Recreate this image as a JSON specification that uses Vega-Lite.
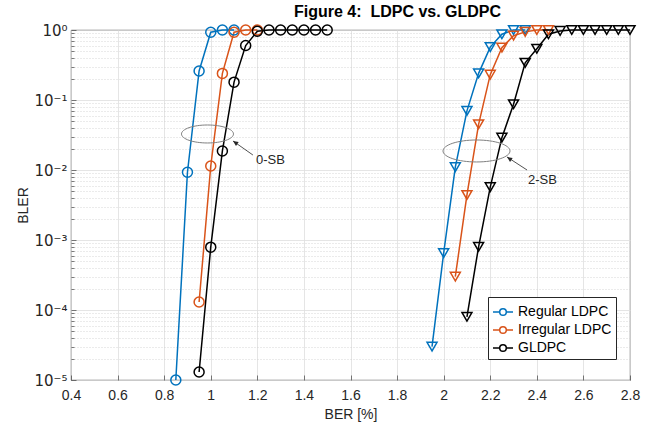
{
  "$schema": "https://vega.github.io/schema/vega-lite/v6.json",
  "autosize": {"type": "none"},
  "padding": {"left": 71, "top": 30, "right": 27, "bottom": 51},
  "width": 559,
  "height": 350,
  "background": "white",
  "title": {
    "text": "Figure 4:\u00a0 LDPC vs. GLDPC",
    "font": "Liberation Sans",
    "fontSize": 16,
    "fontWeight": "bold",
    "color": "#000000",
    "anchor": "middle",
    "dx": 47,
    "offset": -14,
    "baseline": "bottom"
  },
  "config": {
    "view": {"stroke": "#262626", "strokeWidth": 0.8},
    "font": "Liberation Sans"
  },
  "datasets": {
    "curves": [
      {"series": "Regular LDPC", "branch": "0-SB", "ber": 0.85, "bler": 0.00001},
      {"series": "Regular LDPC", "branch": "0-SB", "ber": 0.9, "bler": 0.0093},
      {"series": "Regular LDPC", "branch": "0-SB", "ber": 0.95, "bler": 0.26},
      {"series": "Regular LDPC", "branch": "0-SB", "ber": 1.0, "bler": 0.93},
      {"series": "Regular LDPC", "branch": "0-SB", "ber": 1.05, "bler": 1},
      {"series": "Regular LDPC", "branch": "0-SB", "ber": 1.1, "bler": 1},
      {"series": "Irregular LDPC", "branch": "0-SB", "ber": 0.95, "bler": 0.00013},
      {"series": "Irregular LDPC", "branch": "0-SB", "ber": 1.0, "bler": 0.0114},
      {"series": "Irregular LDPC", "branch": "0-SB", "ber": 1.05, "bler": 0.24},
      {"series": "Irregular LDPC", "branch": "0-SB", "ber": 1.1, "bler": 0.93},
      {"series": "Irregular LDPC", "branch": "0-SB", "ber": 1.15, "bler": 1},
      {"series": "Irregular LDPC", "branch": "0-SB", "ber": 1.2, "bler": 1},
      {"series": "GLDPC", "branch": "0-SB", "ber": 0.95, "bler": 0.000013},
      {"series": "GLDPC", "branch": "0-SB", "ber": 1.0, "bler": 0.00079},
      {"series": "GLDPC", "branch": "0-SB", "ber": 1.05, "bler": 0.0187},
      {"series": "GLDPC", "branch": "0-SB", "ber": 1.1, "bler": 0.18},
      {"series": "GLDPC", "branch": "0-SB", "ber": 1.15, "bler": 0.6},
      {"series": "GLDPC", "branch": "0-SB", "ber": 1.2, "bler": 0.96},
      {"series": "GLDPC", "branch": "0-SB", "ber": 1.25, "bler": 1},
      {"series": "GLDPC", "branch": "0-SB", "ber": 1.3, "bler": 1},
      {"series": "GLDPC", "branch": "0-SB", "ber": 1.35, "bler": 1},
      {"series": "GLDPC", "branch": "0-SB", "ber": 1.4, "bler": 1},
      {"series": "GLDPC", "branch": "0-SB", "ber": 1.45, "bler": 1},
      {"series": "GLDPC", "branch": "0-SB", "ber": 1.5, "bler": 1},
      {"series": "Regular LDPC", "branch": "2-SB", "ber": 1.95, "bler": 0.00003},
      {"series": "Regular LDPC", "branch": "2-SB", "ber": 2.0, "bler": 0.00065},
      {"series": "Regular LDPC", "branch": "2-SB", "ber": 2.05, "bler": 0.011},
      {"series": "Regular LDPC", "branch": "2-SB", "ber": 2.1, "bler": 0.07},
      {"series": "Regular LDPC", "branch": "2-SB", "ber": 2.15, "bler": 0.24},
      {"series": "Regular LDPC", "branch": "2-SB", "ber": 2.2, "bler": 0.57},
      {"series": "Regular LDPC", "branch": "2-SB", "ber": 2.25, "bler": 0.87},
      {"series": "Regular LDPC", "branch": "2-SB", "ber": 2.3, "bler": 1},
      {"series": "Regular LDPC", "branch": "2-SB", "ber": 2.35, "bler": 1},
      {"series": "Irregular LDPC", "branch": "2-SB", "ber": 2.05, "bler": 0.0003},
      {"series": "Irregular LDPC", "branch": "2-SB", "ber": 2.1, "bler": 0.0044},
      {"series": "Irregular LDPC", "branch": "2-SB", "ber": 2.15, "bler": 0.045},
      {"series": "Irregular LDPC", "branch": "2-SB", "ber": 2.2, "bler": 0.23},
      {"series": "Irregular LDPC", "branch": "2-SB", "ber": 2.25, "bler": 0.56},
      {"series": "Irregular LDPC", "branch": "2-SB", "ber": 2.3, "bler": 0.83},
      {"series": "Irregular LDPC", "branch": "2-SB", "ber": 2.35, "bler": 0.94},
      {"series": "Irregular LDPC", "branch": "2-SB", "ber": 2.4, "bler": 1},
      {"series": "Irregular LDPC", "branch": "2-SB", "ber": 2.45, "bler": 1},
      {"series": "GLDPC", "branch": "2-SB", "ber": 2.1, "bler": 0.00008},
      {"series": "GLDPC", "branch": "2-SB", "ber": 2.15, "bler": 0.0008},
      {"series": "GLDPC", "branch": "2-SB", "ber": 2.2, "bler": 0.0057},
      {"series": "GLDPC", "branch": "2-SB", "ber": 2.25, "bler": 0.029},
      {"series": "GLDPC", "branch": "2-SB", "ber": 2.3, "bler": 0.087},
      {"series": "GLDPC", "branch": "2-SB", "ber": 2.35, "bler": 0.34},
      {"series": "GLDPC", "branch": "2-SB", "ber": 2.4, "bler": 0.54},
      {"series": "GLDPC", "branch": "2-SB", "ber": 2.45, "bler": 0.87},
      {"series": "GLDPC", "branch": "2-SB", "ber": 2.5, "bler": 0.97},
      {"series": "GLDPC", "branch": "2-SB", "ber": 2.55, "bler": 1},
      {"series": "GLDPC", "branch": "2-SB", "ber": 2.6, "bler": 1},
      {"series": "GLDPC", "branch": "2-SB", "ber": 2.65, "bler": 1},
      {"series": "GLDPC", "branch": "2-SB", "ber": 2.7, "bler": 1},
      {"series": "GLDPC", "branch": "2-SB", "ber": 2.75, "bler": 1},
      {"series": "GLDPC", "branch": "2-SB", "ber": 2.8, "bler": 1}
    ],
    "ellipses": [
      {"group": "0-SB", "ber": 0.986, "bler": 0.0327},
      {"group": "2-SB", "ber": 2.141, "bler": 0.0187}
    ],
    "arrows": [
      {"group": "0-SB", "ber": 1.181, "bler": 0.01637, "ber2": 1.0955, "bler2": 0.02596},
      {"group": "2-SB", "ber": 2.358, "bler": 0.0100, "ber2": 2.272, "bler2": 0.01534}
    ],
    "labels": [
      {"text": "0-SB", "ber": 1.194, "bler": 0.0139},
      {"text": "2-SB", "ber": 2.362, "bler": 0.0072}
    ]
  },
  "layer": [
    {
      "data": {"name": "curves"},
      "mark": {"type": "line", "strokeWidth": 1.5, "clip": false},
      "encoding": {
        "x": {
          "field": "ber", "type": "quantitative",
          "scale": {"domain": [0.4, 2.8], "nice": false, "zero": false},
          "axis": {
            "values": [0.4, 0.6, 0.8, 1.0, 1.2, 1.4, 1.6, 1.8, 2.0, 2.2, 2.4, 2.6, 2.8],
            "format": "~g",
            "title": "BER [%]",
            "titleFont": "Liberation Sans",
            "titleFontSize": 14,
            "titleFontWeight": "normal",
            "titleColor": "#262626",
            "titlePadding": 5,
            "labelFont": "Liberation Sans",
            "labelFontSize": 14,
            "labelColor": "#262626",
            "labelPadding": 13,
            "labelFlush": false,
            "domain": false,
            "tickSize": -5,
            "tickColor": "#262626",
            "tickWidth": 0.6,
            "grid": true,
            "gridColor": "#dedede",
            "gridWidth": 0.8
          }
        },
        "y": {
          "field": "bler", "type": "quantitative",
          "scale": {"type": "log", "domain": [0.00001, 1], "nice": false},
          "axis": {
            "values": [0.00001, 0.00002, 0.00003, 0.00004, 0.00005, 0.00006, 0.00007, 0.00008, 0.00009,
                       0.0001, 0.0002, 0.0003, 0.0004, 0.0005, 0.0006, 0.0007, 0.0008, 0.0009,
                       0.001, 0.002, 0.003, 0.004, 0.005, 0.006, 0.007, 0.008, 0.009,
                       0.01, 0.02, 0.03, 0.04, 0.05, 0.06, 0.07, 0.08, 0.09,
                       0.1, 0.2, 0.3, 0.4, 0.5, 0.6, 0.7, 0.8, 0.9, 1],
            "labelExpr": "abs(log(datum.value)/LN10 - round(log(datum.value)/LN10)) < 0.000001 ? ['10⁰','10⁻¹','10⁻²','10⁻³','10⁻⁴','10⁻⁵'][-round(log(datum.value)/LN10)] : ''",
            "title": "BLER",
            "titleFont": "Liberation Sans",
            "titleFontSize": 14,
            "titleFontWeight": "normal",
            "titleColor": "#262626",
            "titlePadding": 3,
            "labelFont": "DejaVu Sans",
            "labelFontSize": 15,
            "labelColor": "#262626",
            "labelPadding": 9,
            "labelOverlap": false,
            "labelBound": false,
            "labelFlush": false,
            "domain": false,
            "tickSize": {"condition": {"test": "abs(log(datum.value)/LN10 - round(log(datum.value)/LN10)) < 0.000001", "value": -5}, "value": -3},
            "tickColor": "#262626",
            "tickWidth": 0.6,
            "grid": true,
            "gridColor": {"condition": {"test": "abs(log(datum.value)/LN10 - round(log(datum.value)/LN10)) < 0.000001", "value": "#dedede"}, "value": "#cccccc"},
            "gridDash": {"condition": {"test": "abs(log(datum.value)/LN10 - round(log(datum.value)/LN10)) < 0.000001", "value": []}, "value": [1, 2]},
            "gridWidth": 0.8
          }
        },
        "color": {
          "field": "series", "type": "nominal",
          "scale": {"domain": ["Regular LDPC", "Irregular LDPC", "GLDPC"], "range": ["#0072BD", "#D95319", "#000000"]},
          "legend": {
            "title": null,
            "orient": "none",
            "legendX": 417,
            "legendY": 267,
            "direction": "vertical",
            "fillColor": "white",
            "strokeColor": "#262626",
            "padding": 4,
            "rowPadding": 0,
            "labelFont": "Liberation Sans",
            "labelFontSize": 14,
            "labelColor": "#000000",
            "labelOffset": 4,
            "symbolType": "M -1 0 L -0.33 0 M 0.33 0 L 1 0 M -0.33 0 A 0.33 0.33 0 1 0 0.33 0 A 0.33 0.33 0 1 0 -0.33 0",
            "symbolSize": 400,
            "symbolStrokeWidth": 1.5,
            "symbolFillColor": "transparent"
          }
        },
        "detail": {"field": "branch", "type": "nominal"}
      }
    },
    {
      "data": {"name": "curves"},
      "mark": {"type": "point", "filled": false, "strokeWidth": 1.5, "size": 100, "opacity": 1, "clip": false},
      "encoding": {
        "x": {"field": "ber", "type": "quantitative"},
        "y": {"field": "bler", "type": "quantitative"},
        "color": {"field": "series", "type": "nominal"},
        "shape": {
          "field": "branch", "type": "nominal",
          "scale": {"domain": ["0-SB", "2-SB"], "range": ["circle", "triangle-down"]},
          "legend": null
        }
      }
    },
    {
      "data": {"name": "ellipses"},
      "transform": [{"filter": "datum.group === '0-SB'"}],
      "mark": {"type": "point", "filled": false, "stroke": "#808080", "strokeWidth": 1, "opacity": 1, "size": 2704,
               "shape": "M -1 0 A 1 0.346 0 1 0 1 0 A 1 0.346 0 1 0 -1 0"},
      "encoding": {
        "x": {"field": "ber", "type": "quantitative"},
        "y": {"field": "bler", "type": "quantitative"}
      }
    },
    {
      "data": {"name": "ellipses"},
      "transform": [{"filter": "datum.group === '2-SB'"}],
      "mark": {"type": "point", "filled": false, "stroke": "#808080", "strokeWidth": 1, "opacity": 1, "size": 4489,
               "shape": "M -1 0 A 1 0.328 0 1 0 1 0 A 1 0.328 0 1 0 -1 0"},
      "encoding": {
        "x": {"field": "ber", "type": "quantitative"},
        "y": {"field": "bler", "type": "quantitative"}
      }
    },
    {
      "data": {"name": "arrows"},
      "mark": {"type": "rule", "color": "#262626", "strokeWidth": 0.8},
      "encoding": {
        "x": {"field": "ber", "type": "quantitative"},
        "y": {"field": "bler", "type": "quantitative"},
        "x2": {"field": "ber2"},
        "y2": {"field": "bler2"}
      }
    },
    {
      "data": {"name": "arrows"},
      "mark": {"type": "point", "filled": true, "color": "#262626", "opacity": 1, "size": 110, "angle": 304,
               "shape": "M 0 0 L -0.45 1 L 0.45 1 Z"},
      "encoding": {
        "x": {"field": "ber2", "type": "quantitative"},
        "y": {"field": "bler2", "type": "quantitative"}
      }
    },
    {
      "data": {"name": "labels"},
      "mark": {"type": "text", "align": "left", "baseline": "middle", "font": "Liberation Sans", "fontSize": 13, "color": "#262626"},
      "encoding": {
        "x": {"field": "ber", "type": "quantitative"},
        "y": {"field": "bler", "type": "quantitative"},
        "text": {"field": "text"}
      }
    }
  ]
}
